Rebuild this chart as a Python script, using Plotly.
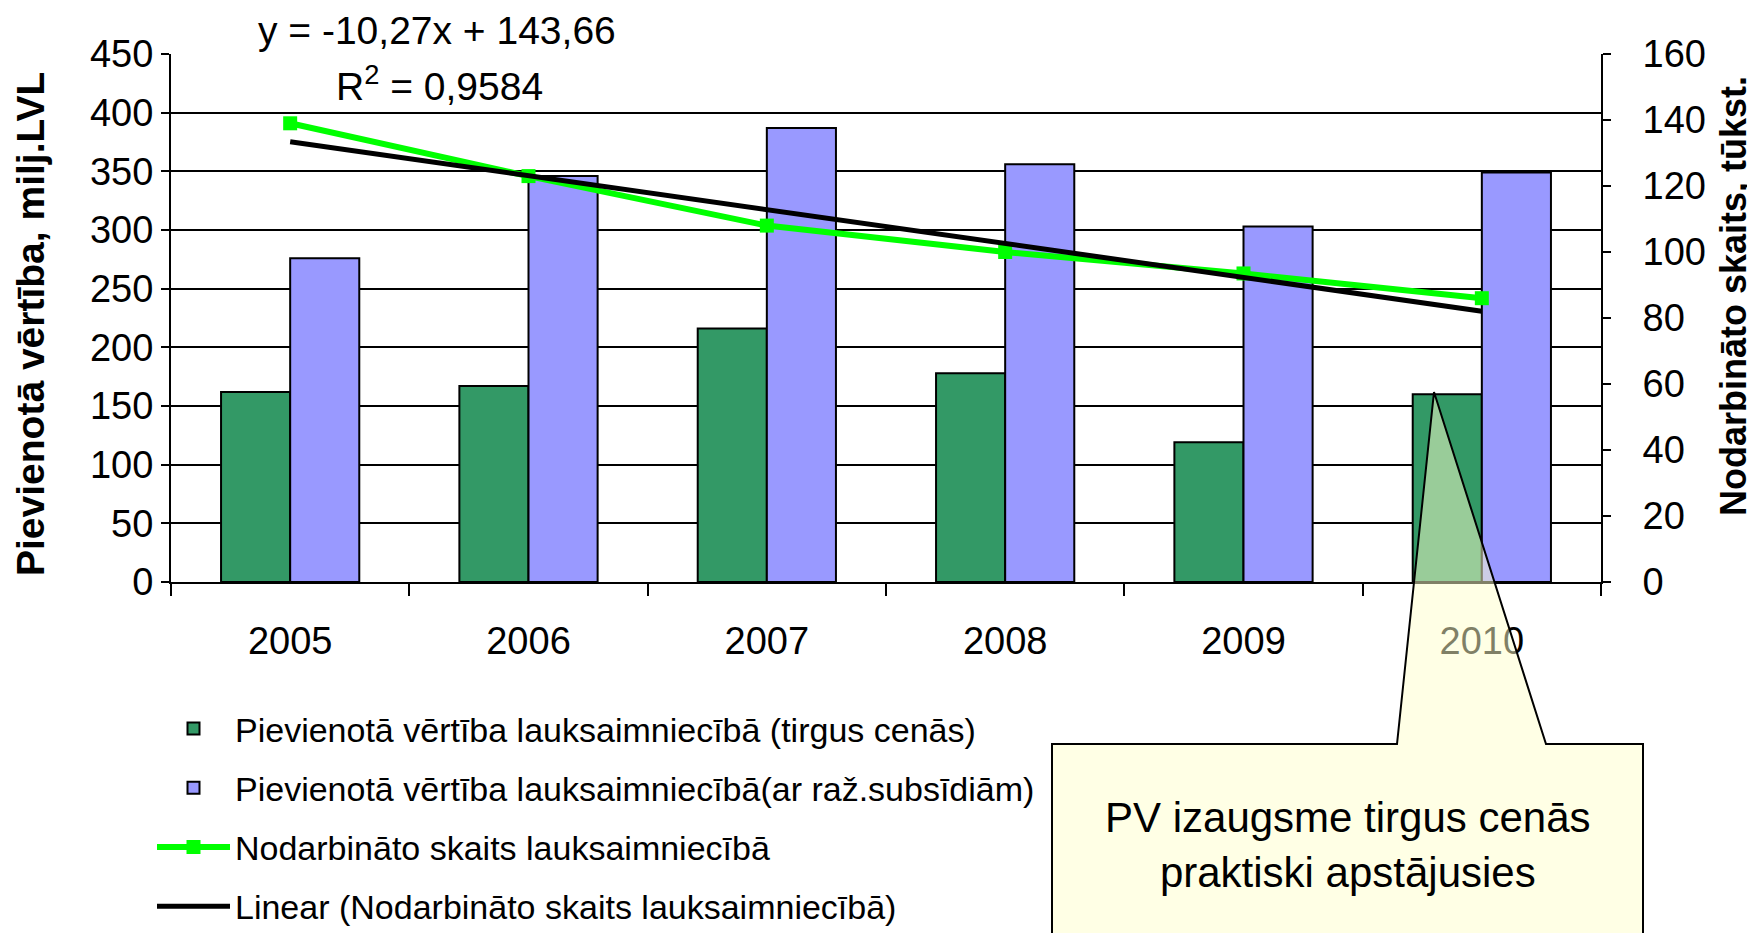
import plotly.graph_objects as go

years = ["2005", "2006", "2007", "2008", "2009", "2010"]
pv_market = [162, 167, 216, 178, 119, 160]
pv_subsidy = [276, 346, 387, 356, 303, 349]
employed = [139, 123, 108, 100, 93.5, 86]
trend_slope = -10.27
trend_intercept = 143.66
trend_y = [trend_slope * (i + 1) + trend_intercept for i in range(len(years))]

name_market = "Pievienotā vērtība lauksaimniecībā (tirgus cenās)"
name_subsidy = "Pievienotā vērtība lauksaimniecībā(ar raž.subsīdiām)"
name_emp = "Nodarbināto skaits lauksaimniecībā"
name_trend = "Linear (Nodarbināto skaits lauksaimniecībā)"

FONT = "Liberation Sans, Arial, sans-serif"

fig = go.Figure()
fig.add_trace(go.Bar(x=years, y=pv_market, name=name_market, legendgroup="a",
                     marker=dict(color="#339966", line=dict(color="black", width=2))))
fig.add_trace(go.Bar(x=years, y=pv_subsidy, name=name_subsidy, legendgroup="b",
                     marker=dict(color="#9999FF", line=dict(color="black", width=2))))
fig.add_trace(go.Scatter(x=years, y=employed, name=name_emp, yaxis="y2", legendgroup="c",
                         mode="lines+markers", line=dict(color="#00FF00", width=6),
                         marker=dict(symbol="square", size=14, color="#00FF00")))
fig.add_trace(go.Scatter(x=years, y=trend_y, name=name_trend, yaxis="y2", legendgroup="d",
                         mode="lines", line=dict(color="black", width=5)))

# page body has an 8px margin; screen-pixel plot area is x 171..1601, y 54..582
OFF = 8
W, H = 1755 - OFF, 933 - OFF
X0, X1, Y0, Y1 = 171, 1601, 54, 582
L, T = X0 - OFF, Y0 - OFF
R, B = OFF + W - X1, OFF + H - Y1
pw, ph = X1 - X0, Y1 - Y0

def px(x):
    return (x - X0) / pw

def py(y):
    return (Y1 - y) / ph

# callout box with pointer (screen pixel geometry converted to paper coords)
bx0, bx1, btop, bbot = 1052, 1643, 744, 1010
p1, p2, tipx, tipy = 1397, 1546, 1434, 392
path = (f"M {px(bx0)},{py(btop)} L {px(p1)},{py(btop)} L {px(tipx)},{py(tipy)} "
        f"L {px(p2)},{py(btop)} L {px(bx1)},{py(btop)} L {px(bx1)},{py(bbot)} "
        f"L {px(bx0)},{py(bbot)} Z")

fig.update_layout(
    width=W, height=H,
    margin=dict(l=L, r=R, t=T, b=B, autoexpand=False),
    paper_bgcolor="white", plot_bgcolor="white",
    font=dict(family=FONT, size=38, color="black"),
    barmode="group", bargap=0.42, bargroupgap=0,
    showlegend=True,
    legend=dict(x=px(152), y=py(700), xanchor="left", yanchor="top",
                font=dict(family=FONT, size=34), tracegroupgap=12,
                traceorder="grouped", bgcolor="rgba(0,0,0,0)", itemwidth=73),
    xaxis=dict(type="category", showline=True, linecolor="black", linewidth=2,
               ticks="outside", tickson="boundaries", ticklen=12, tickwidth=2,
               tickcolor="black", showgrid=False, tickfont=dict(size=38),
               ticklabelstandoff=24),
    yaxis=dict(range=[0, 450], dtick=50, showline=True, linecolor="black", linewidth=2,
               ticks="outside", ticklen=8, tickwidth=2, tickcolor="black",
               showgrid=True, gridcolor="black", gridwidth=2, zeroline=False,
               tickfont=dict(size=38)),
    yaxis2=dict(range=[0, 160], dtick=20, overlaying="y", side="right",
                showline=True, linecolor="black", linewidth=2,
                ticks="outside", ticklen=8, tickwidth=2, tickcolor="black",
                showgrid=False, zeroline=False, tickfont=dict(size=38),
                ticklabelstandoff=24),
    shapes=[dict(type="path", xref="paper", yref="paper", path=path,
                 fillcolor="rgba(255,255,204,0.5)", line=dict(color="black", width=2),
                 layer="above")],
    annotations=[
        dict(text="<b>Pievienotā vērtība, milj.LVL</b>", xref="paper", yref="paper",
             x=px(30), y=py(324), xanchor="center", yanchor="middle", textangle=-90,
             showarrow=False, font=dict(size=39)),
        dict(text="<b>Nodarbināto skaits, tūkst.</b>", xref="paper", yref="paper",
             x=px(1733), y=py(296), xanchor="center", yanchor="middle", textangle=-90,
             showarrow=False, font=dict(size=36)),
        dict(text="y = -10,27x + 143,66", xref="paper", yref="paper",
             x=px(437), y=py(30), xanchor="center", yanchor="middle",
             showarrow=False, font=dict(size=39)),
        dict(text="R<sup>2</sup> = 0,9584", xref="paper", yref="paper",
             x=px(439), y=py(84), xanchor="center", yanchor="middle",
             showarrow=False, font=dict(size=39)),
        dict(text="PV izaugsme tirgus cenās<br>praktiski apstājusies", xref="paper",
             yref="paper", x=px(1348), y=py(845), xanchor="center", yanchor="middle",
             showarrow=False, font=dict(size=42), align="center"),
    ],
)

fig.write_html("out.html")
